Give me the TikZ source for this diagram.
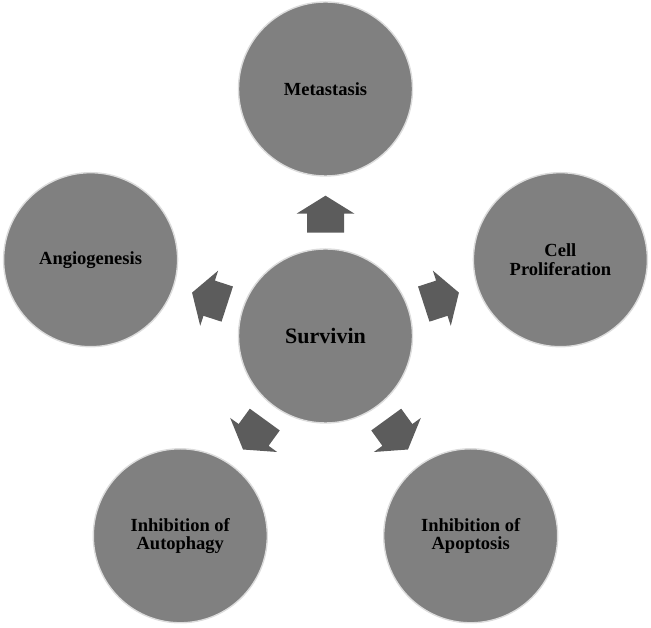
\documentclass[tikz,border=0pt]{standalone}
\usepackage{fontspec}
\setmainfont{Liberation Serif}
\definecolor{bubfill}{RGB}{128,128,128}
\definecolor{arrfill}{RGB}{92,92,92}
\definecolor{rim}{RGB}{220,220,220}
\begin{document}
\begin{tikzpicture}[x=1pt,y=1pt,
  bub/.style={circle, fill=bubfill, draw=rim, line width=1.4pt, minimum size=174pt, inner sep=0pt, align=center, font=\bfseries\fontsize{18.5}{18.5}\selectfont},
  blockarr/.style={fill=arrfill}]
\useasboundingbox (0,0) rectangle (651,628);
\coordinate (c) at (325.5,292);
\node[bub, font=\bfseries\fontsize{22}{24}\selectfont] (surv) at (c) {Survivin};
\node[bub] (meta) at (325.5,539) {Metastasis};
\node[bub] (angio) at (90.6,368.3) {Angiogenesis};
\node[bub] (prolif) at (560.4,368.3) {Cell\\Proliferation};
\node[bub] (autoph) at (180.3,92.2) {Inhibition of\\Autophagy};
\node[bub] (apopt) at (470.7,92.2) {Inhibition of\\Apoptosis};
\foreach \a in {90,162,18,234,306}{
  \begin{scope}[shift={(c)}, rotate=\a-90]
    \fill[blockarr] (0,140.3) -- (29,122.3) -- (18.5,122.3) -- (18.5,103.3)
      -- (-18.5,103.3) -- (-18.5,122.3) -- (-29,122.3) -- cycle;
  \end{scope}
}
\end{tikzpicture}
\end{document}
